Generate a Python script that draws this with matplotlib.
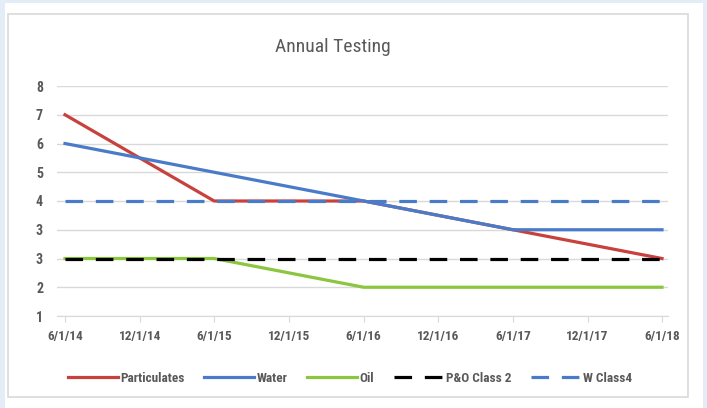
import matplotlib
matplotlib.use("Agg")
import matplotlib.pyplot as plt
import matplotlib.dates as mdates
from matplotlib.patches import Rectangle
from datetime import datetime

# ---- data ----
dates = ["6/1/14", "6/1/15", "6/1/16", "6/1/17", "6/1/18"]
tick_dates = ["6/1/14", "12/1/14", "6/1/15", "12/1/15", "6/1/16",
              "12/1/16", "6/1/17", "12/1/17", "6/1/18"]
# y values are positions on the value axis (0..8); labels shown below
y_tick_labels = ["1", "2", "3", "3", "4", "5", "6", "7", "8"]
particulates = [7, 4, 4, 3, 2]
water = [6, 5, 4, 3, 3]
oil = [2, 2, 1, 1, 1]
po_class2 = [2, 2, 2, 2, 2]
w_class4 = [4, 4, 4, 4, 4]

W, H = 707, 408
plt.rcParams['font.family'] = ['Roboto Condensed', 'Liberation Sans Narrow',
                               'DejaVu Sans Condensed', 'DejaVu Sans']
fig = plt.figure(figsize=(W / 100, H / 100), dpi=100)
fig.patch.set_facecolor("#e4edf7")

# white card and inner border
fig.patches.append(Rectangle((5 / W, 0), 698 / W, 1 - 3 / H, transform=fig.transFigure,
                             facecolor="white", edgecolor="none", zorder=-2))
fig.patches.append(Rectangle((8 / W, 1 - 397 / H), 680 / W, 383 / H, transform=fig.transFigure,
                             facecolor="none", edgecolor="#d9d9d9", lw=1.2, zorder=-1))

def px(x0, y0, x1, y1):
    return [x0 / W, 1 - y1 / H, (x1 - x0) / W, (y1 - y0) / H]

ax = fig.add_axes(px(57, 86, 668, 316))
ax.set_facecolor("none")

parse = lambda s: datetime.strptime(s, "%m/%d/%y")
xd = [parse(d) for d in dates]
xn = mdates.date2num(xd)
dpp = (xn[-1] - xn[0]) / (662 - 65)

gray = "#595959"
ax.plot(xd, particulates, color="#c8413c", lw=2.3, label="Particulates", zorder=3)
ax.plot(xd, water, color="#4a7bc8", lw=2.3, label="Water", zorder=3)
ax.plot(xd, oil, color="#8cc63f", lw=2.3, label="Oil", zorder=2)
ax.plot(xd, po_class2, color="black", lw=2.3, ls=(0, (5.5, 4)), label="P&O Class 2", zorder=4)
ax.plot(xd, w_class4, color="#4a7bc8", lw=2.3, ls=(0, (5.5, 4)), label="W Class4", zorder=4)

ax.set_xlim(xn[0] - 8 * dpp, xn[-1] + 6 * dpp)
ax.set_ylim(0, 8)
ax.set_yticks(range(len(y_tick_labels)))
ax.set_yticklabels(y_tick_labels)
ax.set_xticks([parse(d) for d in tick_dates])
ax.set_xticklabels(tick_dates)
ax.grid(axis="y", color="#d9d9d9", lw=1)
for s in ["top", "right", "left"]:
    ax.spines[s].set_visible(False)
ax.spines["bottom"].set_color("#d9d9d9")
ax.tick_params(axis="y", length=0, pad=10, labelsize=10, labelcolor=gray)
ax.tick_params(axis="x", length=4, color="#d9d9d9", pad=6, labelsize=9.5, labelcolor=gray)
for t in ax.get_yticklabels():
    t.set_fontweight("bold")
for t in ax.get_xticklabels():
    t.set_fontweight("bold")
ax.set_axisbelow(True)

fig.text(333 / W, 1 - 47 / H, "Annual Testing", ha="center", va="center",
         fontsize=14, color=gray)

leg = fig.legend(loc="center", bbox_to_anchor=(350 / W, 1 - 378 / H), ncol=5,
                 frameon=False, prop={"size": 9.5, "weight": "bold"}, labelcolor=gray,
                 handlelength=3.8, handletextpad=0.15, columnspacing=1.5)

fig.savefig("out.png", dpi=100, facecolor=fig.get_facecolor())
